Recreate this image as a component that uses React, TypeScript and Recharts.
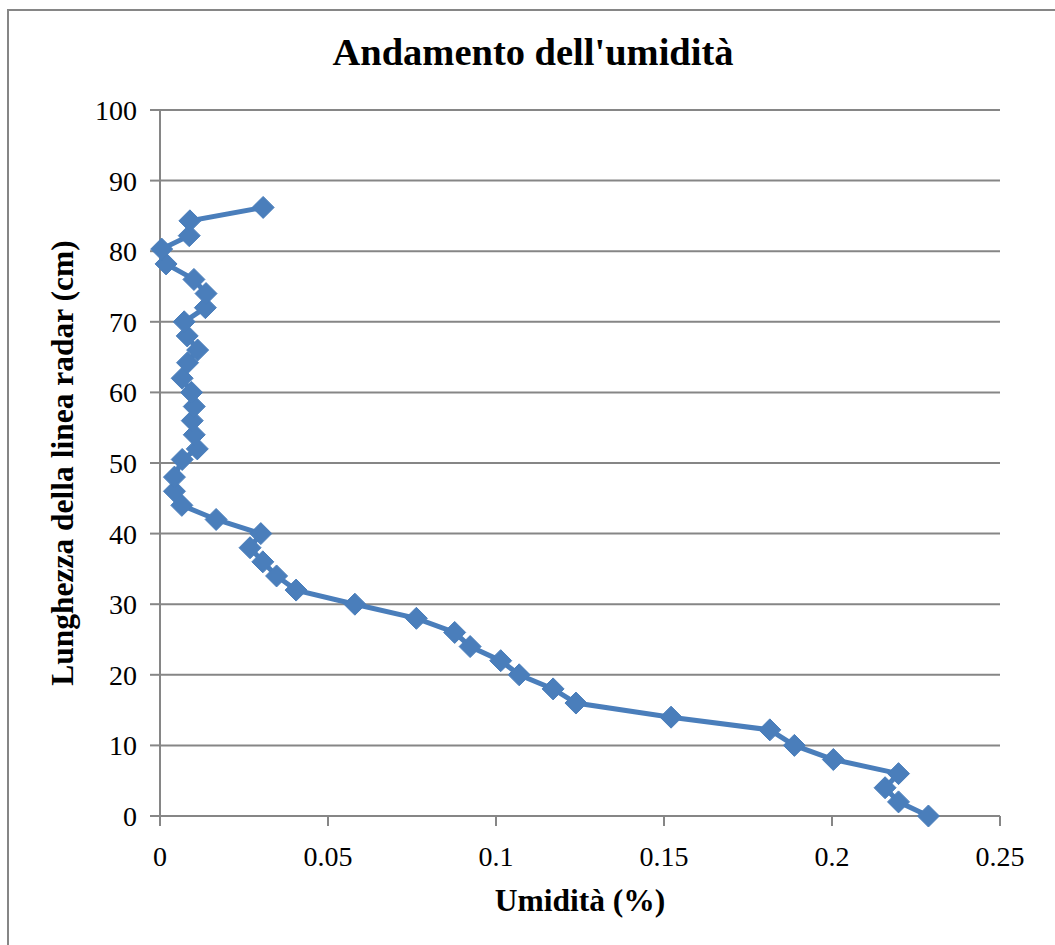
import { ScatterChart, Scatter, XAxis, YAxis, CartesianGrid } from "recharts";

// umidità (frazione), dal fondo verso l'alto
const humidity = [
  0.2287, 0.2198, 0.2158, 0.2198, 0.2004, 0.1888, 0.1815, 0.1521, 0.1238, 0.117,
  0.1069, 0.1014, 0.0923, 0.0877, 0.0763, 0.058, 0.0405, 0.0347, 0.0306, 0.0268,
  0.03, 0.0167, 0.0065, 0.0043, 0.0043, 0.0066, 0.0111, 0.0102, 0.0096, 0.0102,
  0.0094, 0.0066, 0.0082, 0.0112, 0.0081, 0.0072, 0.0135, 0.0137, 0.0101, 0.0018,
  0.0005, 0.0087, 0.0089, 0.0307,
];

// lunghezza della linea radar (cm)
const length = [
  0, 2, 4, 6, 8, 10, 12.2, 14, 16, 18,
  20, 22, 24, 26, 28, 30, 32, 34, 36, 38,
  40, 42, 44, 46, 48, 50.5, 52, 54, 56, 58,
  60, 62, 64.2, 66, 68, 70, 72, 74, 76, 78.2,
  80.3, 82.2, 84.3, 86.2,
];

const xTicks = [0, 0.05, 0.1, 0.15, 0.2, 0.25];
const yTicks = [0, 10, 20, 30, 40, 50, 60, 70, 80, 90, 100];

const data = humidity.map((x, i) => ({ x, y: length[i] }));

const BLUE = "#4A7EBB";
const GRAY = "#868686";
const FONT = "'Liberation Serif', 'Times New Roman', serif";

const Diamond = (props: any) => {
  const { cx, cy } = props;
  if (cx == null || cy == null) return null;
  const r = 11;
  return (
    <polygon
      points={`${cx},${cy - r} ${cx + r},${cy} ${cx},${cy + r} ${cx - r},${cy}`}
      fill={BLUE}
      stroke={BLUE}
      strokeWidth={1}
    />
  );
};

const YTitle = ({ viewBox }: any) => {
  const cx = viewBox.x + 62;
  const cy = viewBox.y + viewBox.height / 2;
  return (
    <text
      x={cx}
      y={cy}
      transform={`rotate(-90, ${cx}, ${cy})`}
      textAnchor="middle"
      dominantBaseline="central"
      fontFamily={FONT}
      fontWeight="bold"
      fontSize={31.5}
      fill="#000"
    >
      Lunghezza della linea radar (cm)
    </text>
  );
};

const XTitle = ({ viewBox }: any) => (
  <text
    x={viewBox.x + viewBox.width / 2}
    y={viewBox.y + 84}
    textAnchor="middle"
    dominantBaseline="central"
    fontFamily={FONT}
    fontWeight="bold"
    fontSize={31.5}
    fill="#000"
  >
    Umidità (%)
  </text>
);

export default function App() {
  return (
    <div
      style={{
        position: "absolute",
        left: 0,
        top: 0,
        width: 1055,
        height: 945,
        overflow: "hidden",
        background: "#fff",
      }}
    >
      <div
        style={{
          position: "absolute",
          left: 7,
          top: 9,
          width: 1100,
          height: 1000,
          border: `2px solid ${GRAY}`,
        }}
      />
      <div
        style={{
          position: "absolute",
          left: 0,
          top: 32,
          width: 1066,
          textAlign: "center",
          fontFamily: FONT,
          fontWeight: "bold",
          fontSize: 38.5,
          lineHeight: "40px",
          color: "#000",
        }}
      >
        Andamento dell'umidità
      </div>
      <div style={{ position: "absolute", left: 0, top: 0 }}>
        <ScatterChart
          width={1055}
          height={945}
          margin={{ top: 110, right: 55, bottom: 69, left: 0 }}
        >
          <CartesianGrid vertical={false} stroke={GRAY} strokeWidth={2} />
          <XAxis
            type="number"
            dataKey="x"
            domain={[0, 0.25]}
            ticks={xTicks}
            height={60}
            axisLine={{ stroke: GRAY, strokeWidth: 2 }}
            tickLine={{ stroke: GRAY, strokeWidth: 2 }}
            tickSize={10}
            tickMargin={20}
            tick={{ fill: "#000", fontSize: 28, fontFamily: FONT }}
            label={{ content: <XTitle /> }}
          />
          <YAxis
            type="number"
            dataKey="y"
            domain={[0, 100]}
            ticks={yTicks}
            width={160}
            axisLine={{ stroke: GRAY, strokeWidth: 2 }}
            tickLine={{ stroke: GRAY, strokeWidth: 2 }}
            tickSize={10}
            tickMargin={13}
            tick={{ fill: "#000", fontSize: 28, fontFamily: FONT }}
            label={{ content: <YTitle /> }}
          />
          <Scatter
            data={data}
            line={{ stroke: BLUE, strokeWidth: 5 }}
            shape={<Diamond />}
            isAnimationActive={false}
          />
        </ScatterChart>
      </div>
    </div>
  );
}
